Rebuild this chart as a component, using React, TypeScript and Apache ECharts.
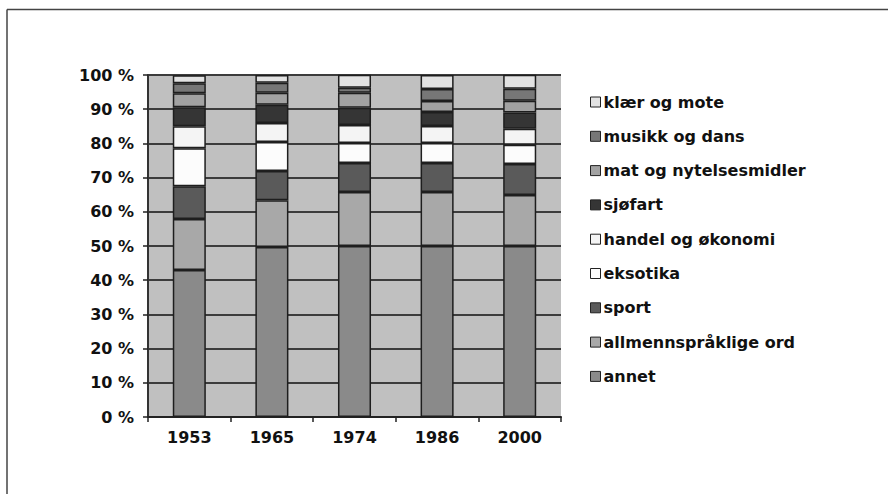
import React, { useEffect, useRef } from "react";
import * as echarts from "echarts";

const years = ["1953", "1965", "1974", "1986", "2000"];

// stacked shares (%) from bottom to top
const annet = [43, 49.7, 50, 50, 50];
const allmennspraklige = [14.9, 13.7, 15.8, 15.8, 14.9];
const sport = [9.6, 8.5, 8.5, 8.5, 9.1];
const eksotika = [11.1, 8.5, 5.8, 5.8, 5.6];
const handel = [6.4, 5.6, 5.3, 5.0, 4.7];
const sjofart = [5.6, 5.3, 5.0, 4.1, 4.7];
const mat = [4.1, 3.5, 4.4, 3.2, 3.5];
const musikk = [2.9, 2.9, 1.5, 3.5, 3.5];
const klaer = [2.3, 2.3, 3.8, 4.1, 4.1];

const yTicks = [0, 10, 20, 30, 40, 50, 60, 70, 80, 90, 100];

const seriesDefs = [
  { name: "annet", data: annet, color: "#8a8a8a" },
  { name: "allmennspråklige ord", data: allmennspraklige, color: "#a8a8a8" },
  { name: "sport", data: sport, color: "#5a5a5a" },
  { name: "eksotika", data: eksotika, color: "#fcfcfc" },
  { name: "handel og økonomi", data: handel, color: "#f4f4f4" },
  { name: "sjøfart", data: sjofart, color: "#353535" },
  { name: "mat og nytelsesmidler", data: mat, color: "#a2a2a2" },
  { name: "musikk og dans", data: musikk, color: "#777777" },
  { name: "klær og mote", data: klaer, color: "#e2e2e2" },
];

const FONT = "DejaVu Sans";

export default function App() {
  const ref = useRef<HTMLDivElement>(null);
  useEffect(() => {
    if (!ref.current) return;
    const chart = echarts.init(ref.current, null, { renderer: "svg" });
    chart.setOption({
      animation: false,
      backgroundColor: "#ffffff",
      grid: {
        left: 148,
        right: 327,
        top: 75,
        bottom: 77,
        show: true,
        backgroundColor: "#c0c0c0",
        borderWidth: 0,
      },
      legend: {
        orient: "vertical",
        left: 585,
        top: 89,
        itemWidth: 10,
        itemHeight: 10,
        itemGap: 18.3,
        icon: "rect",
        data: seriesDefs.map((s) => s.name).reverse(),
        itemStyle: { borderColor: "#222", borderWidth: 1 },
        textStyle: {
          fontFamily: FONT,
          fontWeight: "bold",
          fontSize: 16,
          color: "#111",
          padding: [0, 0, 0, -2],
        },
      },
      xAxis: {
        type: "category",
        data: years,
        axisLine: { show: true, lineStyle: { color: "#222", width: 2 } },
        axisTick: { show: true, alignWithLabel: false, length: 5, lineStyle: { color: "#222", width: 1.5 } },
        axisLabel: {
          margin: 12,
          fontFamily: FONT,
          fontWeight: "bold",
          fontSize: 16,
          color: "#111",
        },
        splitLine: { show: false },
      },
      yAxis: {
        type: "value",
        min: yTicks[0],
        max: yTicks[yTicks.length - 1],
        interval: 10,
        axisLine: { show: true, lineStyle: { color: "#333", width: 2 } },
        axisTick: { show: true, length: 5, lineStyle: { color: "#222", width: 1.5 } },
        axisLabel: {
          margin: 14,
          formatter: "{value} %",
          fontFamily: FONT,
          fontWeight: "bold",
          fontSize: 16,
          color: "#111",
        },
        splitLine: { show: true, lineStyle: { color: "#3c3c3c", width: 2 } },
      },
      series: seriesDefs.map((s) => ({
        name: s.name,
        type: "bar",
        stack: "total",
        data: s.data,
        barWidth: "40%",
        itemStyle: { color: s.color, borderColor: "#1e1e1e", borderWidth: 1.5 },
        emphasis: { disabled: true },
      })),
      graphic: [
        {
          type: "line",
          shape: { x1: 7, y1: 9.5, x2: 888, y2: 9.5 },
          style: { stroke: "#444", lineWidth: 1.5 },
          silent: true,
        },
        {
          type: "line",
          shape: { x1: 7, y1: 9.5, x2: 7, y2: 494 },
          style: { stroke: "#444", lineWidth: 1.5 },
          silent: true,
        },
      ],
    });
    return () => chart.dispose();
  }, []);
  return (
    <div
      ref={ref}
      style={{ position: "fixed", left: 0, top: 0, width: 888, height: 494 }}
    />
  );
}
